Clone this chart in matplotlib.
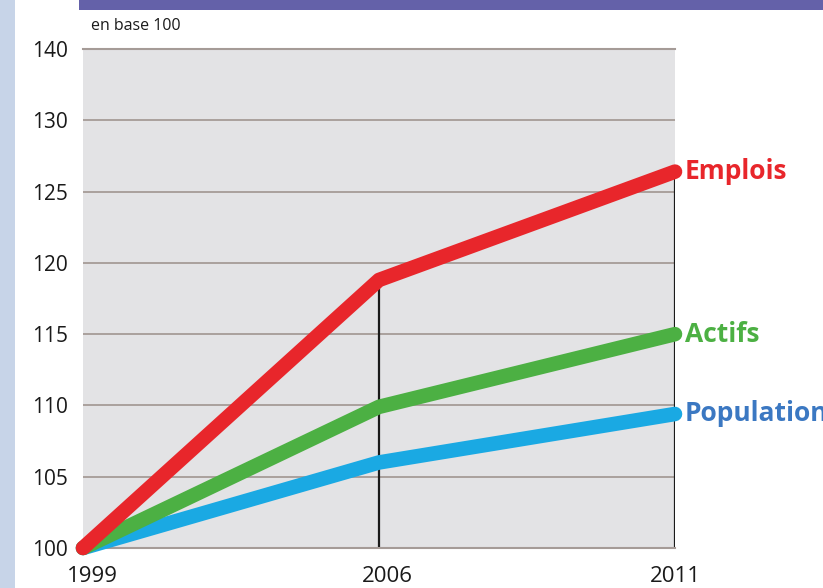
import matplotlib.pyplot as plt
import matplotlib.transforms as mtransforms
from matplotlib.patches import Rectangle

plt.rcParams['font.family'] = ['Open Sans', 'DejaVu Sans']

# data (indices base 100)
years = ['1999', '2006', '2011']
emplois = [100, 118.8, 126.4]
actifs = [100, 109.9, 115.0]
population = [100, 106.0, 109.4]

y_ticks = [100, 105, 110, 115, 120, 125, 130, 135]
y_labels = ['100', '105', '110', '115', '120', '125', '130', '140']

series = [
    ('Population', population, '#1aa9e3', '#3b78c2'),
    ('Actifs', actifs, '#4cb043', '#4cb043'),
    ('Emplois', emplois, '#e8262b', '#e8262b'),
]

W, H = 823, 588
fig = plt.figure(figsize=(W / 100, H / 100), dpi=100)
fig.patch.set_facecolor('white')

# left blue strip and top banner
fig.patches.append(Rectangle((0, 0), 15 / W, 1, transform=fig.transFigure,
                             facecolor='#c7d4e8', edgecolor='none', zorder=0))
fig.patches.append(Rectangle((79 / W, 1 - 10 / H), 1, 10 / H, transform=fig.transFigure,
                             facecolor='#6461a9', edgecolor='none', zorder=0))

ax = fig.add_axes([83 / W, 40 / H, 592 / W, 499 / H])
ax.set_facecolor('#e3e3e5')
x = list(range(len(years)))
ax.set_xlim(0, len(years) - 1)
ax.set_ylim(y_ticks[0], y_ticks[-1])

# horizontal grid
for yv in y_ticks[1:-1]:
    ax.axhline(yv, color='#a59b97', lw=1.3, zorder=1)

for side in ['left', 'right']:
    ax.spines[side].set_visible(False)
for side in ['top', 'bottom']:
    ax.spines[side].set_color('#a59b97')
    ax.spines[side].set_linewidth(1.5)

# black drop lines under the Emplois curve
ax.vlines(x[1:], y_ticks[0], emplois[1:], color='#1a1a1a', lw=1.6, zorder=2)

for name, vals, col, tcol in series:
    ax.plot(x, vals, color=col, lw=10.5, solid_capstyle='round',
            solid_joinstyle='round', zorder=3, clip_on=False)
    ax.annotate(name, (x[-1], vals[-1]), xytext=(7, 0), textcoords='offset points',
                ha='left', va='center', fontsize=19, fontweight='bold',
                color=tcol, annotation_clip=False)

ax.set_yticks(y_ticks)
ax.set_yticklabels(y_labels)
ax.set_xticks(x)
ax.set_xticklabels(years)
ax.tick_params(axis='y', length=0, pad=11, labelsize=15, labelcolor='#1a1a1a')
ax.tick_params(axis='x', length=0, pad=13, labelsize=16, labelcolor='#1a1a1a')

# year labels sit a little to the right of their ticks in the original
for lbl, dx in zip(ax.get_xticklabels(), [9, 8, 0]):
    lbl.set_transform(lbl.get_transform() +
                      mtransforms.ScaledTranslation(dx / 100, 0, fig.dpi_scale_trans))

fig.text(91 / W, 1 - 30 / H, 'en base 100', fontsize=11.5, color='#1a1a1a',
         ha='left', va='baseline')

fig.savefig('out.png', dpi=100)
